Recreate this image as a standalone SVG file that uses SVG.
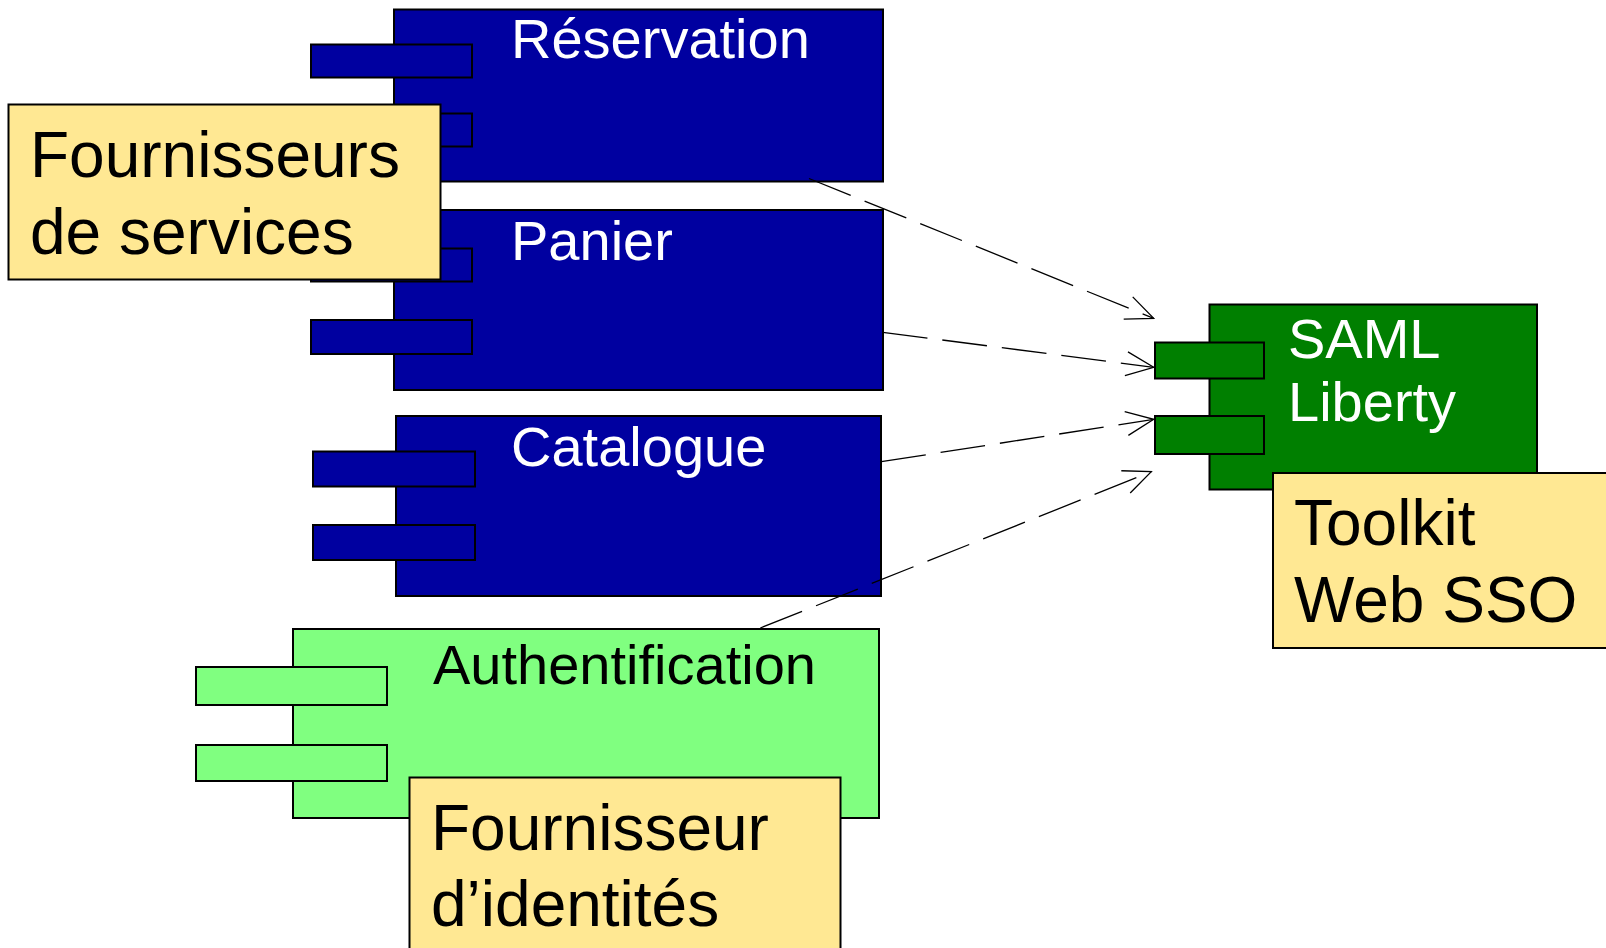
<svg xmlns="http://www.w3.org/2000/svg" width="1606" height="948" viewBox="0 0 1606 948">
<style>
.blue{fill:#0000A0;stroke:#000;stroke-width:2}
.dgreen{fill:#007F00;stroke:#000;stroke-width:2}
.lgreen{fill:#80FF80;stroke:#000;stroke-width:2}
.note{fill:#FFE893;stroke:#000;stroke-width:2}
.lbl{font-family:"Liberation Sans",Arial,sans-serif;font-size:56px;fill:#fff}
.lblk{font-family:"Liberation Sans",Arial,sans-serif;font-size:56px;fill:#000}
.ntxt{font-family:"Liberation Sans",Arial,sans-serif;font-size:64px;fill:#000}
.dep{fill:none;stroke:#000;stroke-width:1.3;stroke-dasharray:45 15}
</style>
<defs>
<marker id="open" viewBox="0 0 31 27" refX="29.5" refY="13.5" markerWidth="31" markerHeight="27" markerUnits="userSpaceOnUse" orient="auto">
<path d="M2,1.5 L29.5,13.5 L2,25.5" fill="none" stroke="#000" stroke-width="1.3" stroke-dasharray="none"/>
</marker>
</defs>
<g id="reservation">
<rect class="blue" x="394" y="9.5" width="489" height="172"/>
<rect class="blue" x="311" y="44.5" width="161" height="33"/>
<rect class="blue" x="311" y="113.5" width="161" height="33"/>
<text class="lbl" x="511" y="57.5">Réservation</text>
</g>
<g id="panier">
<rect class="blue" x="394" y="210" width="489" height="180"/>
<rect class="blue" x="311" y="248.5" width="161" height="33"/>
<rect class="blue" x="311" y="320" width="161" height="34"/>
<text class="lbl" x="511" y="260">Panier</text>
</g>
<g id="catalogue">
<rect class="blue" x="396" y="416" width="485" height="180"/>
<rect class="blue" x="313" y="451.5" width="162" height="35"/>
<rect class="blue" x="313" y="525" width="162" height="35"/>
<text class="lbl" x="511" y="466">Catalogue</text>
</g>
<g id="authentification">
<rect class="lgreen" x="293" y="629" width="586" height="189"/>
<rect class="lgreen" x="196" y="667" width="191" height="38"/>
<rect class="lgreen" x="196" y="745" width="191" height="36"/>
<text class="lblk" x="433" y="684">Authentification</text>
</g>
<g id="saml">
<rect class="dgreen" x="1209.5" y="304.5" width="327.5" height="185"/>
<rect class="dgreen" x="1155" y="342.5" width="109" height="36"/>
<rect class="dgreen" x="1155" y="416" width="109" height="38"/>
<text class="lbl" x="1288" y="357.5">SAML</text>
<text class="lbl" x="1288" y="420.5">Liberty</text>
</g>
<g id="connectors">
<path class="dep" d="M809,178.5 L1153.7,318.3" marker-end="url(#open)"/>
<path class="dep" d="M882.8,332.3 L1153.7,367.3" marker-end="url(#open)"/>
<path class="dep" d="M881.3,461.7 L1153.7,419.3" marker-end="url(#open)"/>
<path class="dep" d="M760.3,628 L1151.3,471.7" marker-end="url(#open)"/>
</g>
<g id="note-fournisseurs-services">
<rect class="note" x="8.5" y="104.5" width="432" height="175"/>
<text class="ntxt" x="30" y="177">Fournisseurs</text>
<text class="ntxt" x="30" y="253.5">de services</text>
</g>
<g id="note-toolkit">
<rect class="note" x="1273" y="473" width="336" height="175"/>
<text class="ntxt" x="1294" y="545">Toolkit</text>
<text class="ntxt" x="1294" y="621.5">Web SSO</text>
</g>
<g id="note-fournisseur-identites">
<rect class="note" x="409.5" y="777.5" width="431" height="180"/>
<text class="ntxt" x="431" y="849.5">Fournisseur</text>
<text class="ntxt" x="431" y="925.5">d’identités</text>
</g>
</svg>
